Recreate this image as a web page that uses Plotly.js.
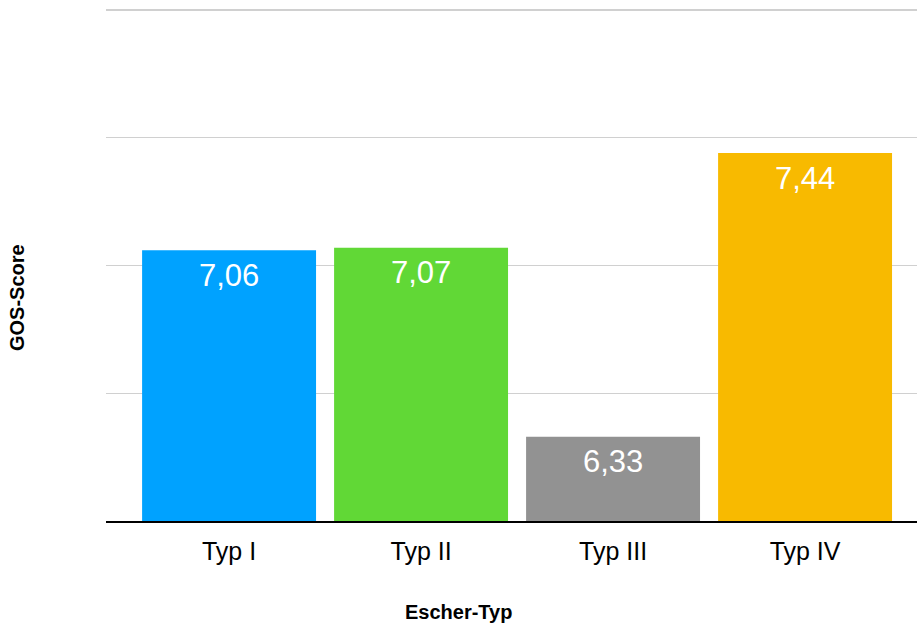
<!DOCTYPE html>
<html>
<head>
<meta charset="utf-8">
<script src="https://cdn.plot.ly/plotly-3.0.1.min.js"></script>
<style>
  html, body { margin: 0; padding: 0; background: #fff; }
  #chart { width: 917px; height: 623px; }
</style>
</head>
<body>
<div id="chart"></div>
<script>
// GOS-Score by Escher type
const categories = ['Typ I', 'Typ II', 'Typ III', 'Typ IV'];
const scores = [7.06, 7.07, 6.33, 7.44];
const barColors = ['#00A2FF', '#61D836', '#929292', '#F8BA00'];
const xTitle = 'Escher-Typ';
const yTitle = 'GOS-Score';

const FONT = 'Liberation Sans, Arial, Helvetica, sans-serif';
const AXIS_FLOOR = 6;

const fmt = v => v.toFixed(2).replace('.', ',');

// bars rise from the axis floor
const trace = {
  type: 'bar',
  x: categories,
  y: scores.map(v => v - AXIS_FLOOR),
  base: AXIS_FLOOR,
  marker: { color: barColors, line: { width: 0 } },
  hoverinfo: 'skip'
};

// value labels sit just below each bar top
const valueLabels = categories.map((c, i) => ({
  x: c,
  y: scores[i],
  xref: 'x',
  yref: 'y',
  text: fmt(scores[i]),
  showarrow: false,
  yanchor: 'middle',
  yshift: -25,
  font: { family: FONT, size: 31, color: '#ffffff' }
}));

const titleFont = { family: FONT, size: 20, color: '#000000', weight: 'bold' };

const axisTitles = [
  {
    text: xTitle, xref: 'paper', yref: 'paper',
    x: (458 - 106) / 811, y: -(612 - 521) / 513,
    xanchor: 'center', yanchor: 'middle', showarrow: false,
    font: titleFont
  },
  {
    text: yTitle, xref: 'paper', yref: 'paper',
    x: (17 - 106) / 811, y: (521 - 298) / 513,
    xanchor: 'center', yanchor: 'middle', showarrow: false,
    textangle: -90,
    font: titleFont
  }
];

const layout = {
  width: 917,
  height: 623,
  margin: { l: 106, r: 0, t: 8, b: 102 },
  paper_bgcolor: '#ffffff',
  plot_bgcolor: '#ffffff',
  showlegend: false,
  bargap: 0.094,
  font: { family: FONT, color: '#000000' },
  xaxis: {
    type: 'category',
    range: [-0.641, 3.583],
    showgrid: false,
    zeroline: false,
    showline: true,
    linecolor: '#000000',
    linewidth: 2,
    ticks: '',
    tickfont: { family: FONT, size: 25, color: '#000000' },
    ticklabelstandoff: 7,
    automargin: false
  },
  yaxis: {
    range: [6, 8.008],
    dtick: 0.5,
    tick0: 6,
    showgrid: true,
    gridcolor: '#d0d0d0',
    gridwidth: 1.4,
    zeroline: false,
    showline: false,
    showticklabels: false,
    ticks: '',
    automargin: false
  },
  annotations: valueLabels.concat(axisTitles)
};

Plotly.newPlot('chart', [trace], layout, { displayModeBar: false, staticPlot: true });
</script>
</body>
</html>
